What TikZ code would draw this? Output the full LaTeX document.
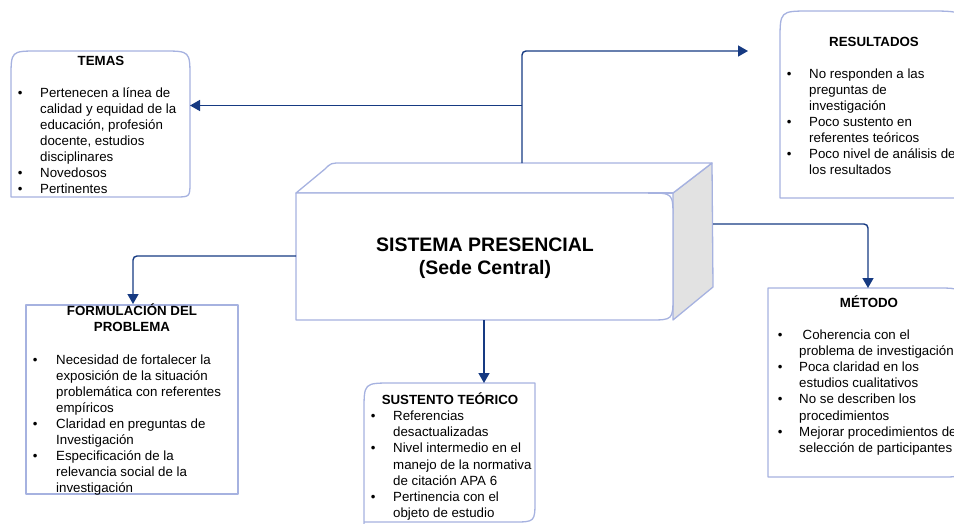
\documentclass[tikz,border=0pt]{standalone}
\usepackage{fontspec}
\setmainfont{Liberation Sans}
\usetikzlibrary{arrows.meta}
\definecolor{boxcol}{RGB}{166,178,224}
\definecolor{navy}{RGB}{22,58,130}
\definecolor{sidegray}{RGB}{226,226,226}
\begin{document}
\begin{tikzpicture}[x=1pt,y=-1pt,
  outline/.style={draw=boxcol, line width=1.3pt, fill=white, line join=round},
  conn/.style={draw=navy, line width=1.4pt, rounded corners=4pt, -{Triangle[length=10pt,width=11pt]}},
  ttl/.style={font=\fontsize{13.3}{16}\selectfont\bfseries, inner sep=0, anchor=base},
  lst/.style={inner sep=0, anchor=base west, font=\fontsize{13.3}{#1}\selectfont},
  lst/.default=16]
\useasboundingbox (0,0) rectangle (954,523);
\clip (0,0) rectangle (954,523);

% ---------- boxes ----------
% TEMAS
\draw[outline] (11,197) -- (11,78) .. controls (11,51) .. (38,51) -- (163,51)
  .. controls (190,51) .. (190,78) -- (190,182) .. controls (190,197) .. (175,197) -- cycle;
% RESULTADOS
\draw[outline] (780,198) -- (780,41) .. controls (780,11) .. (810,11) -- (928,11)
  .. controls (968,11) .. (968,51) -- (968,178) .. controls (968,198) .. (948,198) -- cycle;
% FORMULACION
\draw[outline] (26,305) rectangle (238,494);
% SUSTENTO
\draw[outline] (364,524) -- (364,411) .. controls (364,383) .. (392,383) -- (535,383)
  -- (535,500) .. controls (535,522) .. (513,522) -- (364,522);
% METODO
\draw[outline] (768,477) -- (768,288) -- (937,288) .. controls (962,288) .. (962,313)
  -- (962,457) .. controls (962,477) .. (942,477) -- cycle;

% ---------- 3D central block ----------
\draw[draw=boxcol, line width=1.3pt, fill=sidegray, line join=round]
  (673,193) -- (712,163) -- (713,287) -- (673,320) -- cycle;
\draw[outline] (296,193) -- (325,169) .. controls (331,163) .. (342,163) -- (712,163)
  -- (673,193) -- cycle;
\draw[outline] (296,193) -- (648,193) .. controls (673,193) .. (673,218) -- (673,296)
  .. controls (673,320) .. (649,320) -- (296,320) -- cycle;
\draw[draw=boxcol, line width=1.3pt] (648,193) -- (673,193);

\node[font=\fontsize{19.5}{23}\selectfont\bfseries, inner sep=0, anchor=base] (cube)
  at (485,251) {\begin{tabular}[t]{@{}c@{}}SISTEMA PRESENCIAL\\(Sede Central)\end{tabular}};

% ---------- texts ----------
\node[ttl] (temas-t) at (101,65) {TEMAS};
\node[lst=16] (temas-l) at (17.7,97) {\begin{tabular}[t]{@{}p{22.3pt}@{}l@{}}
\textbullet & Pertenecen a línea de\\
 & calidad y equidad de la\\
 & educación, profesión\\
 & docente, estudios\\
 & disciplinares\\
\textbullet & Novedosos\\
\textbullet & Pertinentes
\end{tabular}};

\node[ttl] (res-t) at (874,46) {RESULTADOS};
\node[lst=16.1] (res-l) at (786.7,78) {\begin{tabular}[t]{@{}p{22.3pt}@{}l@{}}
\textbullet & No responden a las\\
 & preguntas de\\
 & investigación\\
\textbullet & Poco sustento en\\
 & referentes teóricos\\
\textbullet & Poco nivel de análisis de\\
 & los resultados
\end{tabular}};

\node[ttl] (form-t) at (132,315) {\begin{tabular}[t]{@{}c@{}}FORMULACIÓN DEL\\PROBLEMA\end{tabular}};
\node[lst=16.1] (form-l) at (32.7,364) {\begin{tabular}[t]{@{}p{23.3pt}@{}l@{}}
\textbullet & Necesidad de fortalecer la\\
 & exposición de la situación\\
 & problemática con referentes\\
 & empíricos\\
\textbullet & Claridad en preguntas de\\
 & Investigación\\
\textbullet & Especificación de la\\
 & relevancia social de la\\
 & investigación
\end{tabular}};

\node[ttl] (sus-t) at (450,404) {SUSTENTO TEÓRICO};
\node[lst=16.2] (sus-l) at (370.7,420.5) {\begin{tabular}[t]{@{}p{22.3pt}@{}l@{}}
\textbullet & Referencias\\
 & desactualizadas\\
\textbullet & Nivel intermedio en el\\
 & manejo de la normativa\\
 & de citación APA 6\\
\textbullet & Pertinencia con el\\
 & objeto de estudio
\end{tabular}};

\node[ttl] (met-t) at (869,307) {MÉTODO};
\node[lst=16.1] (met-l) at (777.7,339.5) {\begin{tabular}[t]{@{}p{21.3pt}@{}l@{}}
\textbullet & \hspace*{3.5pt}Coherencia con el\\
 & problema de investigación\\
\textbullet & Poca claridad en los\\
 & estudios cualitativos\\
\textbullet & No se describen los\\
 & procedimientos\\
\textbullet & Mejorar procedimientos de\\
 & selección de participantes
\end{tabular}};

% ---------- connector points ----------
\coordinate (cubeTop) at (522,163);
\coordinate (branch) at (522,105.5);
\coordinate (resIn) at (748,51);
\coordinate (temasIn) at (190,105.5);
\coordinate (cubeLeft) at (296,256);
\coordinate (formIn) at (133,304);
\coordinate (cubeBottom) at (484,320);
\coordinate (susIn) at (484,383);
\coordinate (cubeRight) at (713,224);
\coordinate (metIn) at (868,288);

\draw[conn] (cubeTop) -- (cubeTop |- resIn) -- (resIn);
\draw[conn] (branch) -- (temasIn);
\draw[conn] (cubeLeft) -- (formIn |- cubeLeft) -- (formIn);
\draw[conn] (cubeBottom) -- (susIn);
\draw[conn] (cubeRight) -- (metIn |- cubeRight) -- (metIn);
\end{tikzpicture}
\end{document}
